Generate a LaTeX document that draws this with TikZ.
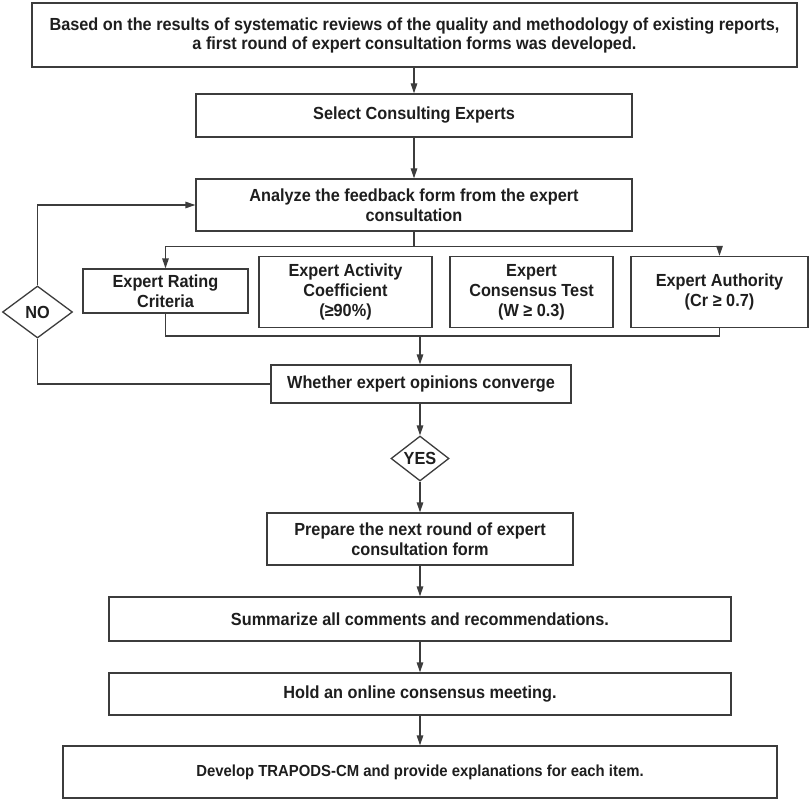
\documentclass[tikz,border=0pt]{standalone}
\usepackage{fontspec}
\setmainfont{Liberation Sans}[FakeStretch=0.93]
\usetikzlibrary{arrows.meta,shapes.geometric}
\definecolor{linec}{HTML}{3C3C3C}
\definecolor{textc}{HTML}{1E1E1E}
\newcommand\boxfont{\fontsize{17.5}{20}\selectfont\bfseries}
\newcommand\topboxfont{\fontsize{17.5}{19}\selectfont\bfseries}
\newcommand\smallboxfont{\fontsize{16}{18}\selectfont\bfseries}
\begin{document}
\begin{tikzpicture}[x=1pt,y=-1pt,
  box/.style={draw=linec, line width=1.3pt, fill=white, inner sep=2pt, align=center, font=\boxfont, text=textc},
  dia/.style={draw=linec, line width=1.3pt, fill=white, shape=diamond, inner sep=0pt, font=\boxfont, text=textc},
  conn/.style={draw=linec, line width=1.3pt},
  arr/.style={conn, -{Triangle[length=10pt,width=6.5pt]}}]
\useasboundingbox[fill=white] (0,0) rectangle (810,802);

\node[box, minimum width=765pt, minimum height=64pt, font=\topboxfont] (top) at (414.5,35)
  {Based on the results of systematic reviews of the quality and methodology of existing reports,\\a first round of expert consultation forms was developed.};
\node[box, minimum width=436pt, minimum height=43pt] (sel) at (414,115.5) {Select Consulting Experts};
\node[box, minimum width=436pt, minimum height=52pt] (ana) at (414,205) {Analyze the feedback form from the expert\\consultation};
\node[box, minimum width=165pt, minimum height=44pt] (er) at (165.5,291) {Expert Rating\\Criteria};
\node[box, minimum width=173pt, minimum height=71pt] (act) at (345.5,292) {Expert Activity\\Coefficient\\(≥90\%)};
\node[box, minimum width=163pt, minimum height=71pt] (con) at (531.5,292) {Expert\\Consensus Test\\(W ≥ 0.3)};
\node[box, minimum width=177pt, minimum height=71pt] (aut) at (719.5,292) {Expert Authority\\(Cr ≥ 0.7)};
\node[dia, minimum width=70pt, minimum height=52pt] (no) at (37.5,312) {NO};
\node[box, minimum width=300pt, minimum height=38pt] (wh) at (421,384) {Whether expert opinions converge};
\node[dia, minimum width=58pt, minimum height=43pt] (yes) at (420,458.5) {YES};
\node[box, minimum width=306pt, minimum height=52pt] (prep) at (420,539) {Prepare the next round of expert\\consultation form};
\node[box, minimum width=622pt, minimum height=44pt] (sum) at (420,619) {Summarize all comments and recommendations.};
\node[box, minimum width=622pt, minimum height=42pt] (hold) at (420,694) {Hold an online consensus meeting.};
\node[box, minimum width=714pt, minimum height=52pt, font=\smallboxfont] (dev) at (420,772) {Develop TRAPODS-CM and provide explanations for each item.};

\coordinate (cj) at (420,336);
\draw[arr] (sel.north |- top.south) -- (sel.north);
\draw[arr] (sel) -- (ana);
\draw[conn] (ana.south) -- ++(0,15) coordinate (bj);
\draw[arr] (bj) -| (er.north);
\draw[arr] (bj) -| (aut.north);
\draw[conn] (er.south) |- (cj) -| (aut.south);
\draw[arr] (cj) -- (cj |- wh.north);
\draw[conn] (wh.west) -| (no.south);
\draw[arr] (no.north) |- (ana.west);
\draw[arr] (yes.north |- wh.south) -- (yes.north);
\draw[arr] (yes) -- (prep);
\draw[arr] (prep) -- (sum);
\draw[arr] (sum) -- (hold);
\draw[arr] (hold) -- (dev);
\end{tikzpicture}
\end{document}
